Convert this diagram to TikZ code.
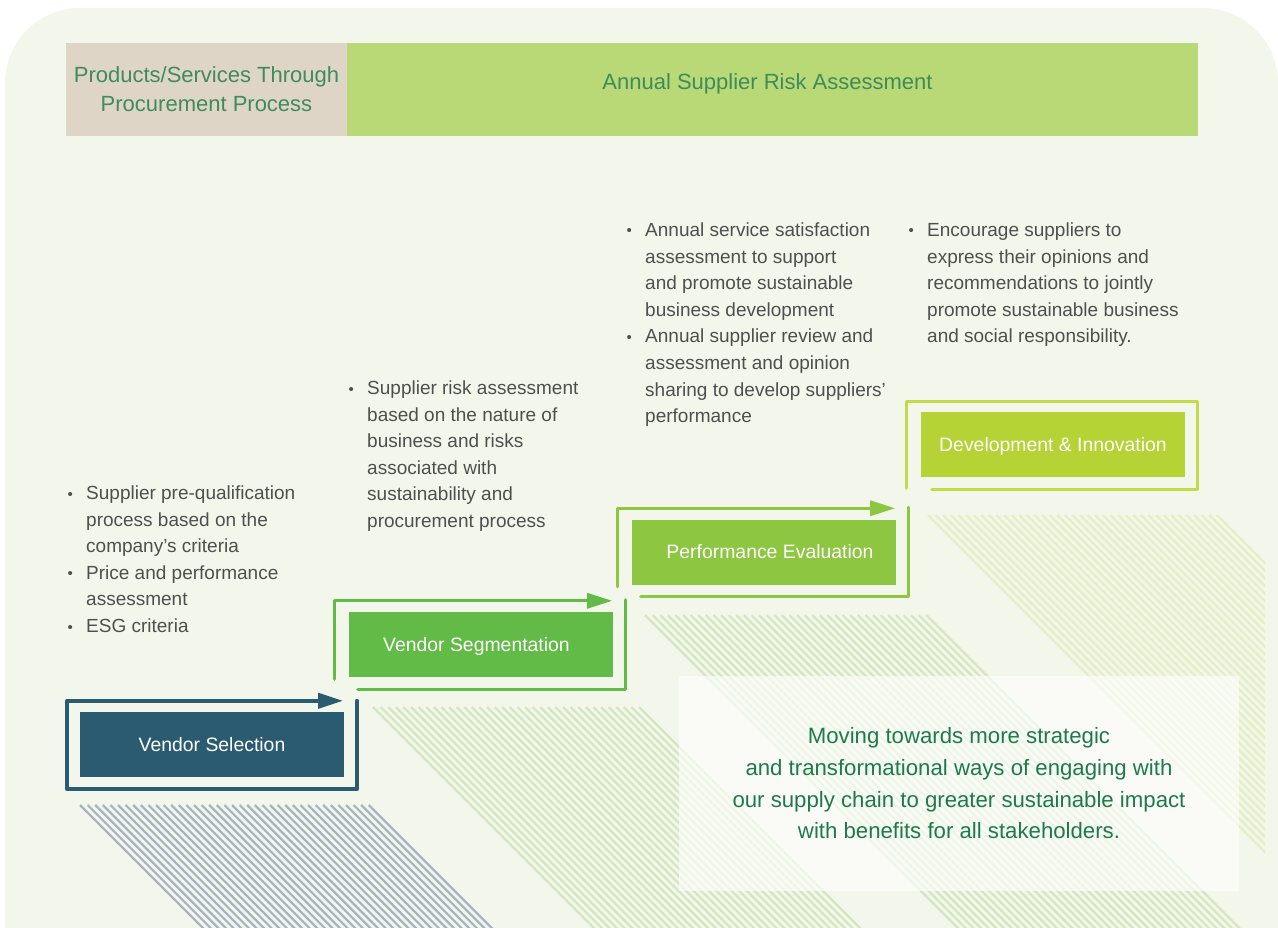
\documentclass[tikz,border=0pt]{standalone}
\usepackage{fontspec}
\setmainfont{Liberation Sans}
\usetikzlibrary{arrows.meta,calc}

\definecolor{bggreen}{HTML}{F3F7EB}
\definecolor{headbeige}{HTML}{DFD5C6}
\definecolor{headgreen}{HTML}{B9D876}
\definecolor{headtext}{HTML}{3F8B5B}
\definecolor{selblue}{HTML}{2B5B71}
\definecolor{seggreen}{HTML}{62BB46}
\definecolor{perfgreen}{HTML}{8DC641}
\definecolor{devgreen}{HTML}{B5D334}
\definecolor{devframe}{HTML}{C5DA4A}
\definecolor{hatchgray}{HTML}{A8B4C3}
\definecolor{hatchgreen}{HTML}{D3E6BF}
\definecolor{hatchlime}{HTML}{E3EEC3}
\definecolor{notegray}{HTML}{4F4F4F}
\definecolor{quotegreen}{HTML}{1E7A4B}

\newcommand{\listdot}{\raisebox{0.5pt}{\fontsize{15}{15}\selectfont •}}

\begin{document}
\begin{tikzpicture}[x=1pt, y=-1pt]
  \tikzset{
    head_box/.style={minimum height=93pt, inner sep=0pt, text=headtext, align=center, font=\fontsize{22}{29}\selectfont},
    step_box/.style={minimum width=264pt, minimum height=65pt, inner sep=0pt, text height=13.7pt, text depth=0pt, text=white, font=\fontsize{19.4}{22}\selectfont},
    frame_line/.style={line width=3.2pt, line cap=round, line join=round},
    frame_arrow/.style={-{Triangle[length=25pt, width=15pt]}},
    hatch_line/.style={line width=2.2pt},
    note_text/.style={anchor=base west, inner sep=0pt, text=notegray, font=\fontsize{19}{26.6}\selectfont},
    quote_box/.style={fill=white, fill opacity=0.6, text opacity=1, text=quotegreen, minimum width=560pt, minimum height=215pt, inner sep=0pt, align=center, font=\fontsize{22.2}{31.7}\selectfont}
  }

  \useasboundingbox (0,0) rectangle (1278,928);

  % Rounded background
  \fill[bggreen, rounded corners=75pt] (5,8) rectangle (1278,1100);

  % Header bands
  \node[head_box, fill=headbeige, minimum width=281pt] (procure) at (206.5,89.5) {Products/Services Through\\Procurement Process};
  \node[head_box, fill=headgreen, minimum width=851pt] (annual) at (772.5,89.5) {};
  \node[head_box, minimum height=0pt] (annual_text) at ($(annual.center)+(-5,-6)$) {Annual Supplier Risk Assessment};

  % Hatched bands below the steps
  \foreach \x in {80,87.6,...,370} \draw[hatch_line, hatchgray] (\x,805) -- ++(130,130);
  \foreach \x in {373,380.6,...,640} \draw[hatch_line, hatchgreen] (\x,707) -- ++(230,230);
  \foreach \x in {645,652.6,...,927} \draw[hatch_line, hatchgreen] (\x,615) -- ++(320,320);
  \begin{scope}
    \clip (900,500) rectangle (1265,900);
    \foreach \x in {928,935.6,...,1217} \draw[hatch_line, hatchlime] (\x,515) -- ++(350,350);
  \end{scope}

  % Quote panel
  \node[quote_box] (quote) at (959,783.5) {Moving towards more strategic\\and transformational ways of engaging with\\our supply chain to greater sustainable impact\\with benefits for all stakeholders.};

  % Steps
  \node[step_box, fill=selblue] (selbox) at (212,744.5) {Vendor Selection};
  \node[step_box, fill=seggreen] (segbox) at (481,644.5) {Vendor Segmentation\hspace*{9pt}};
  \node[step_box, fill=perfgreen] (perfbox) at (764,552) {\hspace*{12pt}Performance Evaluation};
  \node[step_box, fill=devgreen] (devbox) at (1053,444.5) {Development \& Innovation};

  % Frames round the steps
  \draw[frame_line, selblue, line width=4pt, frame_arrow] ($(selbox.north east)+(13,-11)$) -- ($(selbox.south east)+(13,12)$) -- ($(selbox.south west)+(-13,12)$) -- ($(selbox.north west)+(-13,-11)$) -- ($(selbox.north east)+(-1,-11)$);

  \draw[frame_line, seggreen, frame_arrow] ($(segbox.south west)+(-14,2)$) |- ($(segbox.north east)+(-1,-11)$);
  \draw[frame_line, seggreen] ($(segbox.south west)+(9,12)$) -| ($(segbox.north east)+(12,-12)$);

  \draw[frame_line, perfgreen, frame_arrow] ($(perfbox.south west)+(-14,2)$) |- ($(perfbox.north east)+(-1,-11)$);
  \draw[frame_line, perfgreen] ($(perfbox.south west)+(9,12)$) -| ($(perfbox.north east)+(12,-12)$);

  \draw[frame_line, devframe] ($(devbox.south west)+(-14,11)$) -- ($(devbox.north west)+(-14,-10)$) -- ($(devbox.north east)+(12,-10)$) -- ($(devbox.south east)+(12,12)$) -- ($(devbox.south west)+(11,12)$);

  % Notes above each step
  \node[note_text] (selnotes) at (67.5,499.5) {\begin{tabular}[t]{@{}p{18.5pt}@{}l@{}}
    \listdot & Supplier pre-qualification\\
             & process based on the\\
             & company’s criteria\\
    \listdot & Price and performance\\
             & assessment\\
    \listdot & ESG criteria
  \end{tabular}};

  \node[note_text] (segnotes) at (348.5,394.5) {\begin{tabular}[t]{@{}p{18.5pt}@{}l@{}}
    \listdot & Supplier risk assessment\\
             & based on the nature of\\
             & business and risks\\
             & associated with\\
             & sustainability and\\
             & procurement process
  \end{tabular}};

  \node[note_text] (perfnotes) at (626.5,236.5) {\begin{tabular}[t]{@{}p{18.5pt}@{}l@{}}
    \listdot & Annual service satisfaction\\
             & assessment to support\\
             & and promote sustainable\\
             & business development\\
    \listdot & Annual supplier review and\\
             & assessment and opinion\\
             & sharing to develop suppliers’\\
             & performance
  \end{tabular}};

  \node[note_text] (devnotes) at (908.5,236.5) {\begin{tabular}[t]{@{}p{18.5pt}@{}l@{}}
    \listdot & Encourage suppliers to\\
             & express their opinions and\\
             & recommendations to jointly\\
             & promote sustainable business\\
             & and social responsibility.
  \end{tabular}};
\end{tikzpicture}
\end{document}
